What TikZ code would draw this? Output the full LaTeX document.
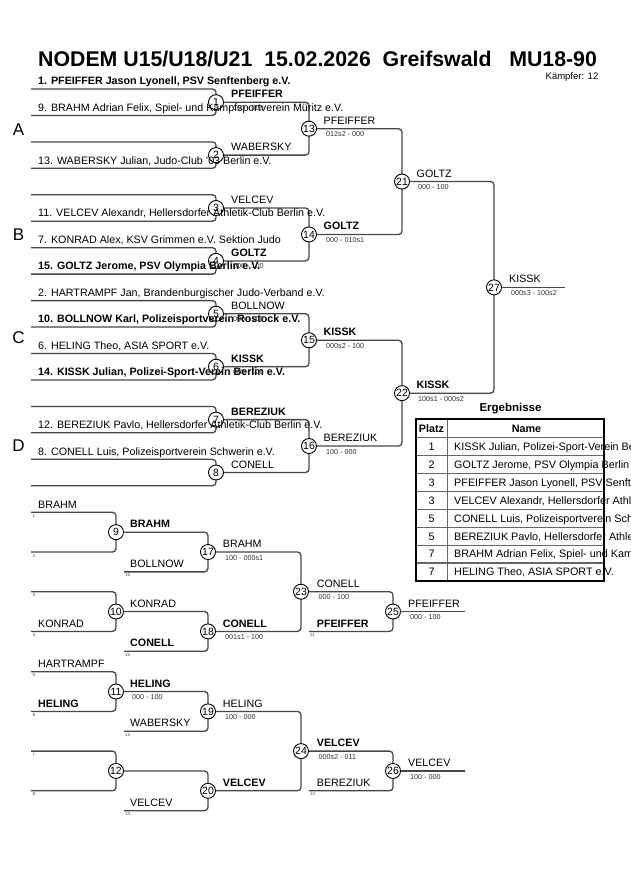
\documentclass[tikz,border=0pt]{standalone}
\usepackage{fontspec}
\setmainfont{Liberation Sans}
\pgfdeclarelayer{bg}
\pgfsetlayers{bg,main}
\begin{document}
\begin{tikzpicture}[x=1pt,y=-1pt,
  br/.style={draw=black!72, line width=1.3pt, rounded corners=3.5pt},
  fnum/.style={circle, draw=black, line width=0.9pt, fill=white, minimum size=15pt, inner sep=0pt, font=\fontsize{10.5}{12}\selectfont},
  nm/.style={anchor=base west, inner sep=0pt, font=\fontsize{10.7}{12}\selectfont},
  nmb/.style={anchor=base west, inner sep=0pt, font=\fontsize{10.7}{12}\selectfont\bfseries},
  sc/.style={anchor=base west, inner sep=0pt, font=\fontsize{7.2}{8}\selectfont, text=black!80},
  tinyn/.style={anchor=north west, inner sep=0pt, font=\fontsize{4.5}{5}\selectfont, text=black!70},
  grp/.style={anchor=base, inner sep=0pt, font=\fontsize{17}{19}\selectfont},
  cell/.style={anchor=base west, inner sep=0pt, font=\fontsize{10.8}{12}\selectfont},
  cellc/.style={anchor=base, inner sep=0pt, font=\fontsize{10.8}{12}\selectfont},
  hdr/.style={anchor=base, inner sep=0pt, font=\fontsize{10.8}{12}\selectfont\bfseries},
]
\useasboundingbox (0,0) rectangle (630,891);

% ---------- title ----------
\node[anchor=base west, inner sep=0pt, font=\fontsize{21.3}{24}\selectfont\bfseries] (title) at (38,66.7) {NODEM U15/U18/U21\ \ 15.02.2026\ \ Greifswald\ \ \ MU18-90};
\node[anchor=base east, inner sep=0pt, font=\fontsize{9.5}{11}\selectfont] (kaempfer) at (598.5,79.3) {Kämpfer: 12};

% ---------- group letters ----------
\node[grp] (gA) at (18.5,135) {A};
\node[grp] (gB) at (18.5,240) {B};
\node[grp] (gC) at (18.5,343.5) {C};
\node[grp] (gD) at (18.5,451.5) {D};

% ---------- main bracket: fight circles ----------
\node[fnum] (c1) at (216,102.2) {1};
\node[fnum] (c2) at (216,155.1) {2};
\node[fnum] (c3) at (216,208.0) {3};
\node[fnum] (c4) at (216,260.9) {4};
\node[fnum] (c5) at (216,313.8) {5};
\node[fnum] (c6) at (216,366.7) {6};
\node[fnum] (c7) at (216,419.6) {7};
\node[fnum] (c8) at (216,472.5) {8};
\node[fnum] (c13) at (309,128.65) {13};
\node[fnum] (c14) at (309,234.45) {14};
\node[fnum] (c15) at (309,340.25) {15};
\node[fnum] (c16) at (309,446.05) {16};
\node[fnum] (c21) at (402,181.55) {21};
\node[fnum] (c22) at (402,393.15) {22};
\node[fnum] (c27) at (494,287.35) {27};

% entry line ends
\coordinate (e1a) at (31,89.0);   \coordinate (e1b) at (31,115.4);
\coordinate (e2a) at (31,141.9);  \coordinate (e2b) at (31,168.3);
\coordinate (e3a) at (31,194.8);  \coordinate (e3b) at (31,221.2);
\coordinate (e4a) at (31,247.7);  \coordinate (e4b) at (31,274.1);
\coordinate (e5a) at (31,300.6);  \coordinate (e5b) at (31,327.0);
\coordinate (e6a) at (31,353.5);  \coordinate (e6b) at (31,379.9);
\coordinate (e7a) at (31,406.4);  \coordinate (e7b) at (31,432.8);
\coordinate (e8a) at (31,459.3);  \coordinate (e8b) at (31,485.7);
\coordinate (fin1) at (565,287.35);

% ---------- repechage circles ----------
% block 1: y0 = 512.3, step 19.85
\node[fnum] (c9)  at (116,532.15) {9};
\node[fnum] (c10) at (116,611.55) {10};
\node[fnum] (c17) at (208,552.0) {17};
\node[fnum] (c18) at (208,631.4) {18};
\node[fnum] (c23) at (301,591.7) {23};
\node[fnum] (c25) at (393,611.55) {25};
\coordinate (r1a) at (31,512.3);  \coordinate (r1b) at (31,552.0);
\coordinate (r3a) at (31,591.7);  \coordinate (r3b) at (31,631.4);
\coordinate (r15) at (124,571.85);
\coordinate (r16) at (124,651.25);
\coordinate (r21) at (309,631.4);
\coordinate (fin2) at (465,611.55);
% block 2: y0 = 671.7
\node[fnum] (c11) at (116,691.55) {11};
\node[fnum] (c12) at (116,770.95) {12};
\node[fnum] (c19) at (208,711.4) {19};
\node[fnum] (c20) at (208,790.8) {20};
\node[fnum] (c24) at (301,751.1) {24};
\node[fnum] (c26) at (393,770.95) {26};
\coordinate (r5a) at (31,671.7);  \coordinate (r5b) at (31,711.4);
\coordinate (r7a) at (31,751.1);  \coordinate (r7b) at (31,790.8);
\coordinate (r13) at (124,731.25);
\coordinate (r14) at (124,810.65);
\coordinate (r22) at (309,790.8);
\coordinate (fin3) at (465,770.95);

\begin{pgfonlayer}{bg}
\fill[white] (0,0) rectangle (630,891);
% round 1
\draw[br] (e1a) -| (c1.center) |- (e1b);
\draw[br] (e2a) -| (c2.center) |- (e2b);
\draw[br] (e3a) -| (c3.center) |- (e3b);
\draw[br] (e4a) -| (c4.center) |- (e4b);
\draw[br] (e5a) -| (c5.center) |- (e5b);
\draw[br] (e6a) -| (c6.center) |- (e6b);
\draw[br] (e7a) -| (c7.center) |- (e7b);
\draw[br] (e8a) -| (c8.center) |- (e8b);
% round 2
\draw[br] (c1.center) -| (c13.center) |- (c2.center);
\draw[br] (c3.center) -| (c14.center) |- (c4.center);
\draw[br] (c5.center) -| (c15.center) |- (c6.center);
\draw[br] (c7.center) -| (c16.center) |- (c8.center);
% semi finals
\draw[br] (c13.center) -| (c21.center) |- (c14.center);
\draw[br] (c15.center) -| (c22.center) |- (c16.center);
% final
\draw[br] (c21.center) -| (c27.center) |- (c22.center);
\draw[br] (c27.center) -- (fin1);
% repechage block 1
\draw[br] (r1a) -| (c9.center) |- (r1b);
\draw[br] (r3a) -| (c10.center) |- (r3b);
\draw[br] (c9.center) -| (c17.center) |- (r15);
\draw[br] (c10.center) -| (c18.center) |- (r16);
\draw[br] (c17.center) -| (c23.center) |- (c18.center);
\draw[br] (c23.center) -| (c25.center) |- (r21);
\draw[br] (c25.center) -- (fin2);
% repechage block 2
\draw[br] (r5a) -| (c11.center) |- (r5b);
\draw[br] (r7a) -| (c12.center) |- (r7b);
\draw[br] (c11.center) -| (c19.center) |- (r13);
\draw[br] (c12.center) -| (c20.center) |- (r14);
\draw[br] (c19.center) -| (c24.center) |- (c20.center);
\draw[br] (c24.center) -| (c26.center) |- (r22);
\draw[br] (c26.center) -- (fin3);
\end{pgfonlayer}

% ---------- main bracket entry names ----------
\node[nmb] (n1)  at (38,84.7)  {1. PFEIFFER Jason Lyonell, PSV Senftenberg e.V.};
\node[nm]  (n9)  at (38,111.1) {9. BRAHM Adrian Felix, Spiel- und Kampfsportverein Müritz e.V.};
\node[nm]  (n13) at (38,164.0) {13. WABERSKY Julian, Judo-Club '03 Berlin e.V.};
\node[nm]  (n11) at (38,216.9) {11. VELCEV Alexandr, Hellersdorfer Athletik-Club Berlin e.V.};
\node[nm]  (n7)  at (38,243.4) {7. KONRAD Alex, KSV Grimmen e.V. Sektion Judo};
\node[nmb] (n15) at (38,269.8) {15. GOLTZ Jerome, PSV Olympia Berlin e.V.};
\node[nm]  (n2)  at (38,296.3) {2. HARTRAMPF Jan, Brandenburgischer Judo-Verband e.V.};
\node[nmb] (n10) at (38,322.7) {10. BOLLNOW Karl, Polizeisportverein Rostock e.V.};
\node[nm]  (n6)  at (38,349.2) {6. HELING Theo, ASIA SPORT e.V.};
\node[nmb] (n14) at (38,375.6) {14. KISSK Julian, Polizei-Sport-Verein Berlin e.V.};
\node[nm]  (n12) at (38,428.5) {12. BEREZIUK Pavlo, Hellersdorfer Athletik-Club Berlin e.V.};
\node[nm]  (n8)  at (38,455.0) {8. CONELL Luis, Polizeisportverein Schwerin e.V.};

% ---------- main bracket winners ----------
\node[nmb] (w1) at (231,97.7)  {PFEIFFER};
\node[sc]  (s1) at (233,110.2) {100 - 000};
\node[nm]  (w2) at (231,150.6) {WABERSKY};
\node[nm]  (w3) at (231,203.5) {VELCEV};
\node[nmb] (w4) at (231,256.4) {GOLTZ};
\node[sc]  (s4) at (233,268.9) {000 - 100};
\node[nm]  (w5) at (231,309.3) {BOLLNOW};
\node[sc]  (s5) at (233,321.8) {000 - 100};
\node[nmb] (w6) at (231,362.2) {KISSK};
\node[sc]  (s6) at (233,374.7) {000 - 100};
\node[nmb] (w7) at (231,415.1) {BEREZIUK};
\node[nm]  (w8) at (231,468.0) {CONELL};

\node[nm]  (w13) at (323.5,124.15) {PFEIFFER};
\node[sc]  (s13) at (326,136.65) {012s2 - 000};
\node[nmb] (w14) at (323.5,229.95) {GOLTZ};
\node[sc]  (s14) at (326,242.45) {000 - 010s1};
\node[nmb] (w15) at (323.5,335.75) {KISSK};
\node[sc]  (s15) at (326,348.25) {000s2 - 100};
\node[nm]  (w16) at (323.5,441.55) {BEREZIUK};
\node[sc]  (s16) at (326,454.05) {100 - 000};

\node[nm]  (w21) at (416.5,177.05) {GOLTZ};
\node[sc]  (s21) at (418,189.55) {000 - 100};
\node[nmb] (w22) at (416.5,388.65) {KISSK};
\node[sc]  (s22) at (418,401.15) {100s1 - 000s2};
\node[nm]  (w27) at (509,282.85) {KISSK};
\node[sc]  (s27) at (511,295.35) {000s3 - 100s2};

% ---------- repechage block 1 labels ----------
\node[nm]  (q1)  at (38,508.0)  {BRAHM};
\node[tinyn] (t1) at (32.5,514.0) {1};
\node[tinyn] (t2) at (32.5,553.7) {2};
\node[nmb] (w9)  at (130,527.85) {BRAHM};
\node[nm]  (q15) at (130,567.55) {BOLLNOW};
\node[tinyn] (t15) at (125,573.55) {15};
\node[nm]  (w17) at (222.7,547.7) {BRAHM};
\node[sc]  (s17) at (225,560.2) {100 - 000s1};
\node[tinyn] (t3) at (32.5,593.4) {3};
\node[nm]  (q4)  at (38,627.1)  {KONRAD};
\node[tinyn] (t4) at (32.5,633.1) {4};
\node[nm]  (w10) at (130,607.25) {KONRAD};
\node[nmb] (q16) at (130,646.95) {CONELL};
\node[tinyn] (t16) at (125,652.95) {16};
\node[nmb] (w18) at (222.7,627.1) {CONELL};
\node[sc]  (s18) at (225,639.6) {001s1 - 100};
\node[nm]  (w23) at (316.7,587.4) {CONELL};
\node[sc]  (s23) at (318.5,599.9) {000 - 100};
\node[nmb] (q21) at (316.7,627.1) {PFEIFFER};
\node[tinyn] (t21) at (310,633.1) {21};
\node[nm]  (w25) at (408,607.25) {PFEIFFER};
\node[sc]  (s25) at (410,619.75) {000 - 100};

% ---------- repechage block 2 labels ----------
\node[nm]  (q5)  at (38,667.4)  {HARTRAMPF};
\node[tinyn] (t5) at (32.5,673.4) {5};
\node[nmb] (q6)  at (38,707.1)  {HELING};
\node[tinyn] (t6) at (32.5,713.1) {6};
\node[nmb] (w11) at (130,687.25) {HELING};
\node[sc]  (s11) at (132,699.75) {000 - 100};
\node[nm]  (q13) at (130,726.95) {WABERSKY};
\node[tinyn] (t13) at (125,732.95) {13};
\node[nm]  (w19) at (222.7,707.1) {HELING};
\node[sc]  (s19) at (225,719.6) {100 - 000};
\node[tinyn] (t7) at (32.5,752.8) {7};
\node[tinyn] (t8) at (32.5,792.5) {8};
\node[nm]  (q14) at (130,806.35) {VELCEV};
\node[tinyn] (t14) at (125,812.35) {14};
\node[nmb] (w20) at (222.7,786.5) {VELCEV};
\node[nmb] (w24) at (316.7,746.8) {VELCEV};
\node[sc]  (s24) at (318.5,759.3) {000s2 - 011};
\node[nm]  (q22) at (316.7,786.5) {BEREZIUK};
\node[tinyn] (t22) at (310,792.5) {22};
\node[nm]  (w26) at (408,766.65) {VELCEV};
\node[sc]  (s26) at (410,779.15) {100 - 000};

% ---------- results table ----------
\node[anchor=base, inner sep=0pt, font=\fontsize{11.5}{13}\selectfont\bfseries] (erg) at (510.5,411) {Ergebnisse};
\node[hdr] (hp) at (431.5,432.3) {Platz};
\node[hdr] (hn) at (526.5,432.3) {Name};
\node[cellc] (p1) at (431.5,450.5) {1};
\node[cell]  (m1) at (454,450.5) {KISSK Julian, Polizei-Sport-Verein Berlin e.V.};
\node[cellc] (p2) at (431.5,468.4) {2};
\node[cell]  (m2) at (454,468.4) {GOLTZ Jerome, PSV Olympia Berlin e.V.};
\node[cellc] (p3) at (431.5,486.3) {3};
\node[cell]  (m3) at (454,486.3) {PFEIFFER Jason Lyonell, PSV Senftenberg e.V.};
\node[cellc] (p4) at (431.5,504.2) {3};
\node[cell]  (m4) at (454,504.2) {VELCEV Alexandr, Hellersdorfer Athletik-Club Berlin e.V.};
\node[cellc] (p5) at (431.5,522.1) {5};
\node[cell]  (m5) at (454,522.1) {CONELL Luis, Polizeisportverein Schwerin e.V.};
\node[cellc] (p6) at (431.5,540.0) {5};
\node[cell]  (m6) at (454,540.0) {BEREZIUK Pavlo, Hellersdorfer Athletik-Club Berlin e.V.};
\node[cellc] (p7) at (431.5,557.9) {7};
\node[cell]  (m7) at (454,557.9) {BRAHM Adrian Felix, Spiel- und Kampfsportverein Müritz e.V.};
\node[cellc] (p8) at (431.5,575.8) {7};
\node[cell]  (m8) at (454,575.8) {HELING Theo, ASIA SPORT e.V.};

\foreach \yy in {437.7,455.6,473.5,491.4,509.3,527.2,545.1,563.0}
  \draw[black!60, line width=1.2pt] (416,\yy) -- (604,\yy);
\draw[black!60, line width=1.2pt] (447.3,419.3) -- (447.3,580.7);
\draw[black, line width=2pt] (416,419.3) rectangle (604,580.7);
\end{tikzpicture}
\end{document}
